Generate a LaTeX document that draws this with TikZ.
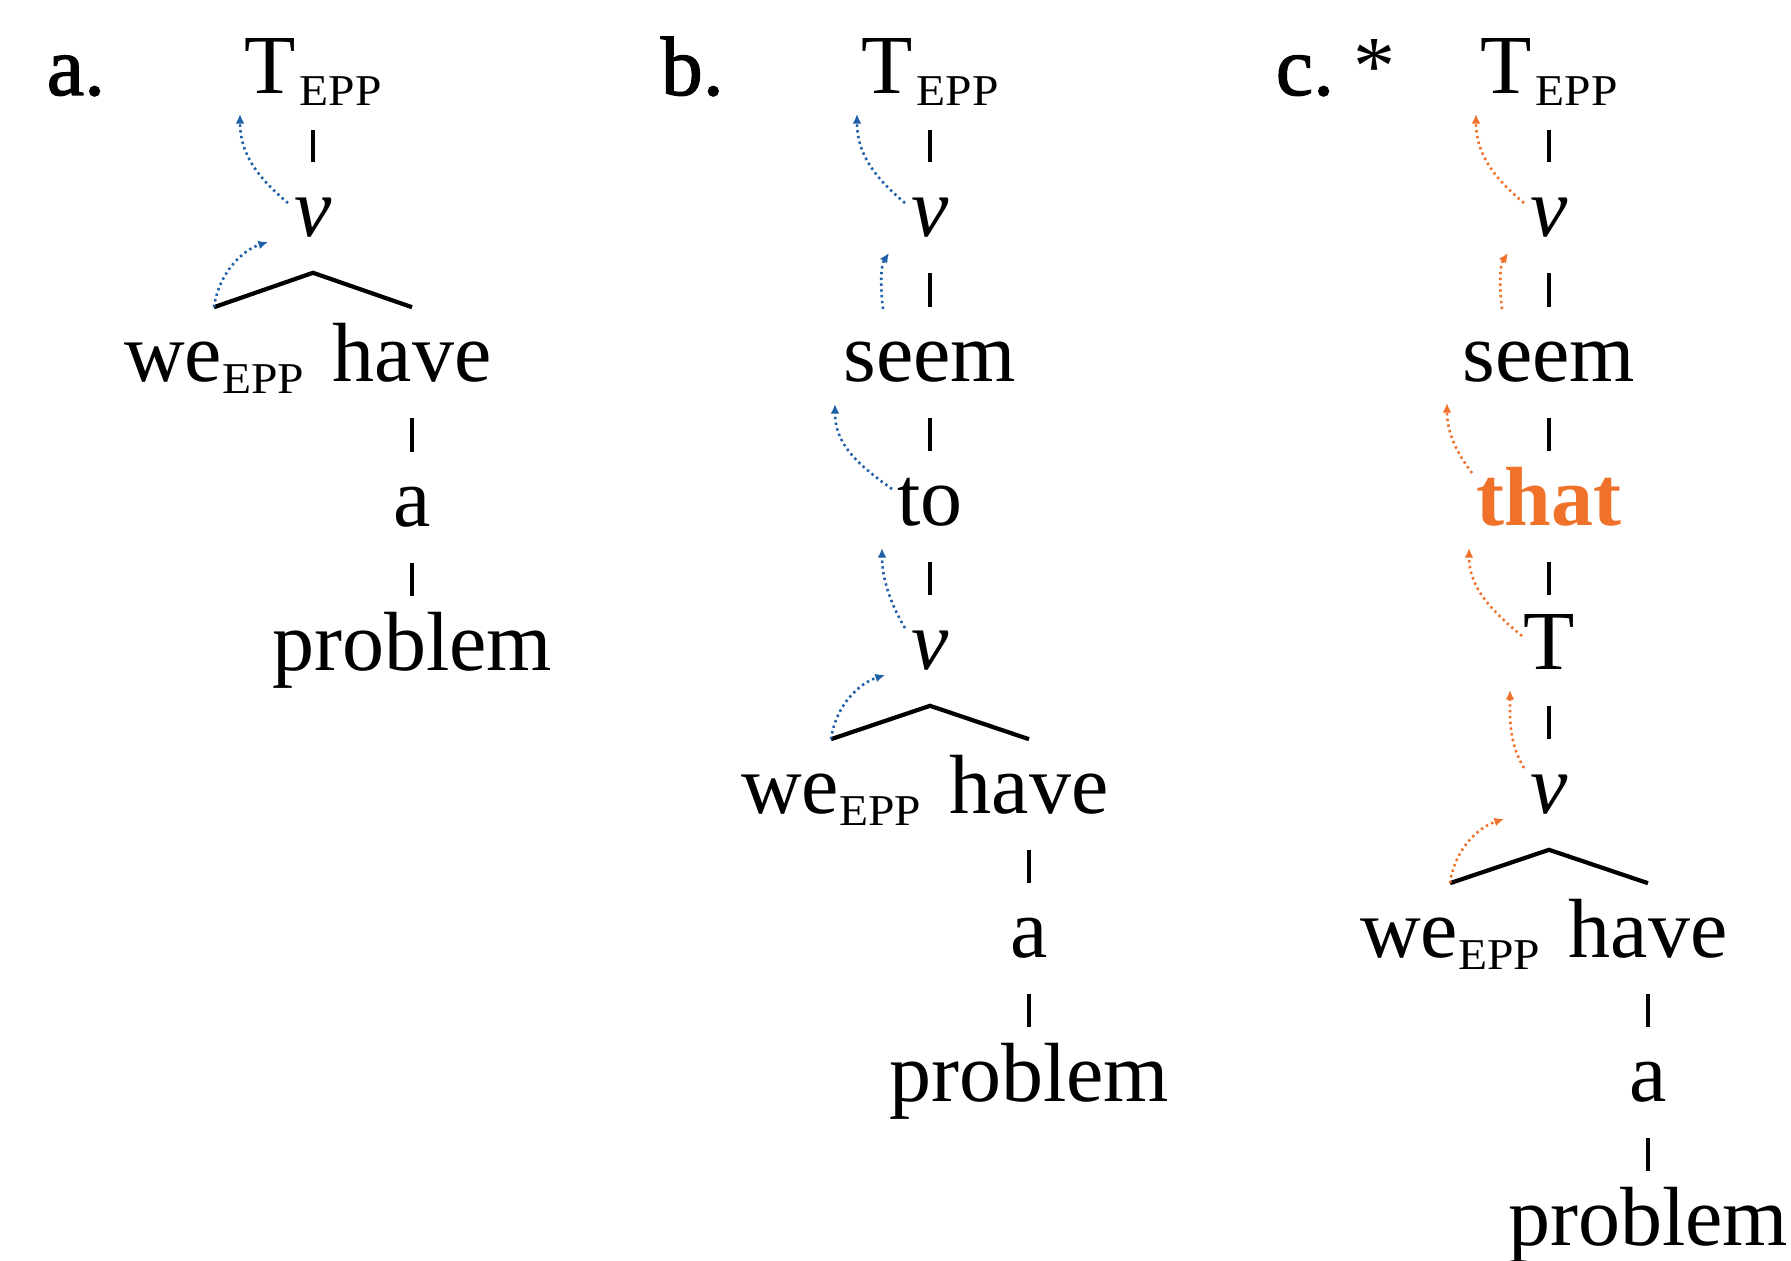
\documentclass[tikz,border=0pt]{standalone}
\usepackage{fontspec}
\setmainfont{Liberation Serif}
\newfontfamily\eppfont[FakeStretch=1.08]{Liberation Serif}
\newfontfamily\lblfont[FakeBold=1.5]{Liberation Serif}
\usetikzlibrary{arrows.meta,calc}
\definecolor{mvblue}{HTML}{1F5FA8}
\definecolor{mvorange}{HTML}{F0722A}
\newcommand{\EPPsub}{\raisebox{-3pt}{\fontsize{11}{11}\eppfont EPP}}
\begin{document}
\begin{tikzpicture}[x=0.25pt,y=-0.25pt,
  word/.style={anchor=base, inner sep=0pt, text height=18.5pt, text depth=8.75pt, font=\fontsize{21}{21}\selectfont},
  lbl/.style={anchor=base west, inner sep=0pt, font=\fontsize{21}{21}\lblfont},
  tline/.style={line width=1.05pt},
  mv/.style={line width=0.65pt, dash pattern=on 0.6pt off 0.85pt, -{Latex[length=2.4pt,width=2.2pt]}},
  mvb/.style={mv, draw=mvblue},
  mvo/.style={mv, draw=mvorange}]
\useasboundingbox (0,0) rectangle (1791,1261);

% ---------- panel a ----------
\node[lbl] (la) at (46,95) {a.};
\node[word] (Ta) at (313,94) {T\kern1pt\EPPsub};
\node[word] (va) at (313,237) {\textit{v}};
\node[word] (wea) at (214,382) {we\EPPsub};
\node[word] (havea) at (412,382) {have};
\node[word] (aa) at (412,527) {a};
\node[word] (proba) at (412,671) {problem};
\draw[tline] (Ta.south) -- (va.north);
\draw[tline] (wea.north) -- (va.south) -- (havea.north);
\draw[tline] (havea.south) -- (aa.north);
\draw[tline] (aa.south) -- (proba.north);
\draw[mvb] ($(va.base)+(-25,-34)$) .. controls +(-30,-25) and +(0,40) .. ($(Ta.base)+(-73,20)$);
\draw[mvb] (wea.north) .. controls +(5,-35) and +(-25,8) .. ($(va.base)+(-45,5)$);

% ---------- panel b ----------
\node[lbl] (lb) at (660,95) {b.};
\node[word] (Tb) at (930,94) {T\kern1pt\EPPsub};
\node[word] (vb1) at (930,237) {\textit{v}};
\node[word] (seemb) at (930,382) {seem};
\node[word] (tob) at (930,526) {to};
\node[word] (vb2) at (930,670) {\textit{v}};
\node[word] (web) at (831,814) {we\EPPsub};
\node[word] (haveb) at (1029,814) {have};
\node[word] (ab) at (1029,958) {a};
\node[word] (probb) at (1029,1102) {problem};
\draw[tline] (Tb.south) -- (vb1.north);
\draw[tline] (vb1.south) -- (seemb.north);
\draw[tline] (seemb.south) -- (tob.north);
\draw[tline] (tob.south) -- (vb2.north);
\draw[tline] (web.north) -- (vb2.south) -- (haveb.north);
\draw[tline] (haveb.south) -- (ab.north);
\draw[tline] (ab.south) -- (probb.north);
\draw[mvb] ($(vb1.base)+(-25,-34)$) .. controls +(-30,-25) and +(0,40) .. ($(Tb.base)+(-73,20)$);
\draw[mvb] ($(seemb.base)+(-47,-73)$) .. controls +(-3,-25) and +(-8,12) .. ($(vb1.base)+(-41,16)$);
\draw[mvb] ($(tob.base)+(-38,-37)$) .. controls +(-35,-25) and +(0,40) .. ($(seemb.base)+(-95,22)$);
\draw[mvb] ($(vb2.base)+(-25,-42)$) .. controls +(-15,-25) and +(0,30) .. ($(tob.base)+(-48,22)$);
\draw[mvb] (web.north) .. controls +(5,-35) and +(-25,8) .. ($(vb2.base)+(-45,5)$);

% ---------- panel c ----------
\node[lbl] (lc) at (1275,95) {c.};
\node[anchor=base west, inner sep=0pt, font=\fontsize{21}{21}\selectfont] (star) at (1353,95) {*};
\node[word] (Tc) at (1549,94) {T\kern1pt\EPPsub};
\node[word] (vc1) at (1549,237) {\textit{v}};
\node[word] (seemc) at (1549,382) {seem};
\node[word, text=mvorange, font=\fontsize{21}{21}\selectfont\bfseries] (thatc) at (1549,526) {that};
\node[word] (Tc2) at (1549,670) {T};
\node[word] (vc2) at (1549,814) {\textit{v}};
\node[word] (wec) at (1450,958) {we\EPPsub};
\node[word] (havec) at (1648,958) {have};
\node[word] (ac) at (1648,1102) {a};
\node[word] (probc) at (1648,1246) {problem};
\draw[tline] (Tc.south) -- (vc1.north);
\draw[tline] (vc1.south) -- (seemc.north);
\draw[tline] (seemc.south) -- (thatc.north);
\draw[tline] (thatc.south) -- (Tc2.north);
\draw[tline] (Tc2.south) -- (vc2.north);
\draw[tline] (wec.north) -- (vc2.south) -- (havec.north);
\draw[tline] (havec.south) -- (ac.north);
\draw[tline] (ac.south) -- (probc.north);
\draw[mvo] ($(vc1.base)+(-25,-34)$) .. controls +(-30,-25) and +(0,40) .. ($(Tc.base)+(-73,20)$);
\draw[mvo] ($(seemc.base)+(-47,-73)$) .. controls +(-3,-25) and +(-8,12) .. ($(vc1.base)+(-41,16)$);
\draw[mvo] ($(thatc.base)+(-77,-53)$) .. controls +(-15,-20) and +(0,30) .. ($(seemc.base)+(-102,21)$);
\draw[mvo] ($(Tc2.base)+(-27,-34)$) .. controls +(-30,-25) and +(0,40) .. ($(thatc.base)+(-80,22)$);
\draw[mvo] ($(vc2.base)+(-25,-46)$) .. controls +(-15,-25) and +(0,30) .. ($(Tc2.base)+(-39,20)$);
\draw[mvo] (wec.north) .. controls +(5,-35) and +(-25,8) .. ($(vc2.base)+(-45,5)$);
\end{tikzpicture}
\end{document}
